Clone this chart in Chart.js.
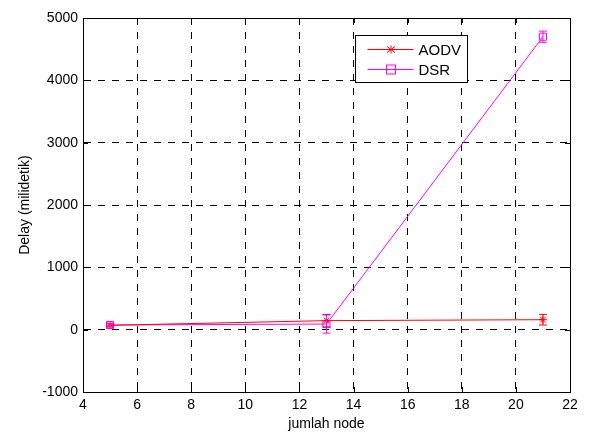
<!DOCTYPE html>
<html>
<head>
<meta charset="utf-8">
<script src="https://cdn.jsdelivr.net/npm/chart.js@4"></script>
<style>
html,body{margin:0;padding:0;background:#fff}
#wrap{width:590px;height:432px;position:relative}
</style>
</head>
<body>
<div id="wrap"><canvas id="cv"></canvas></div>
<script>
// node counts and mean delay per protocol
var nodes=[5,13,21];
var aodv=[70,145,160];
var aodvErr=[25,100,85];
var dsr=[75,90,4700];
var dsrErr=[25,145,90];

var FONT='"Liberation Sans", Arial, sans-serif';

// error bars, box, axis titles and legend drawn over the plot
var extras={
  id:'extras',
  afterDatasetsDraw:function(chart){
    var c=chart.ctx,xs=chart.scales.x,ys=chart.scales.y,a=chart.chartArea;
    function bars(vals,errs,col){
      c.save();c.strokeStyle=col;c.lineWidth=1;
      vals.forEach(function(v,i){
        var px=xs.getPixelForValue(nodes[i]);
        var t=ys.getPixelForValue(v+errs[i]),b=ys.getPixelForValue(v-errs[i]);
        c.beginPath();
        c.moveTo(px,t);c.lineTo(px,b);
        c.moveTo(px-4,t);c.lineTo(px+4,t);
        c.moveTo(px-4,b);c.lineTo(px+4,b);
        c.stroke();
      });
      c.restore();
    }
    bars(aodv,aodvErr,'#ff0000');
    bars(dsr,dsrErr,'#ff00ff');
    c.save();
    c.strokeStyle='#000';c.lineWidth=1;
    c.strokeRect(Math.round(a.left)+0.5,Math.round(a.top)+0.5,Math.round(a.right-a.left),Math.round(a.bottom-a.top));
    // inward tick marks
    c.beginPath();
    xs.ticks.forEach(function(t){var px=Math.round(xs.getPixelForValue(t.value))+0.5;
      c.moveTo(px,a.bottom);c.lineTo(px,a.bottom-5);c.moveTo(px,a.top);c.lineTo(px,a.top+5);});
    ys.ticks.forEach(function(t){var py=Math.round(ys.getPixelForValue(t.value))+0.5;
      c.moveTo(a.left,py);c.lineTo(a.left+5,py);c.moveTo(a.right,py);c.lineTo(a.right-5,py);});
    c.stroke();
    // axis titles
    c.fillStyle='#000';c.font='14px '+FONT;c.textAlign='center';c.textBaseline='middle';
    c.fillText('jumlah node',(a.left+a.right)/2,424);
    c.save();c.translate(25,(a.top+a.bottom)/2);c.rotate(-Math.PI/2);
    c.fillText('Delay (milidetik)',0,0);c.restore();
    // legend
    c.textAlign='left';
    var lx=355.5,ly=35.5,lw=112,lh=47;
    c.fillStyle='#fff';c.fillRect(lx,ly,lw,lh);
    c.strokeRect(lx,ly,lw,lh);
    c.font='15px '+FONT;
    var rows=[{t:'AODV',col:'#ff0000',y:ly+14},{t:'DSR',col:'#ff00ff',y:ly+34}];
    rows.forEach(function(r,i){
      c.strokeStyle=r.col;c.beginPath();c.moveTo(lx+12,r.y);c.lineTo(lx+58,r.y);c.stroke();
      if(i===0){
        c.beginPath();
        c.moveTo(lx+35.5,r.y-4);c.lineTo(lx+35.5,r.y+4);
        c.moveTo(lx+31.5,r.y-3);c.lineTo(lx+39.5,r.y+3);
        c.moveTo(lx+31.5,r.y+3);c.lineTo(lx+39.5,r.y-3);
        c.stroke();
      }else{
        c.strokeRect(lx+31,r.y-4.5,9,9);
      }
      c.fillStyle='#000';c.fillText(r.t,lx+63,r.y+1);
    });
    c.restore();
  }
};

new Chart(document.getElementById('cv'),{
  type:'line',
  data:{datasets:[
    {label:'AODV',data:nodes.map(function(x,i){return{x:x,y:aodv[i]};}),
     borderColor:'#ff0000',backgroundColor:'#ff0000',borderWidth:1,
     pointStyle:'star',pointRadius:4,pointBorderWidth:1,tension:0},
    {label:'DSR',data:nodes.map(function(x,i){return{x:x,y:dsr[i]};}),
     borderColor:'#ff00ff',backgroundColor:'rgba(0,0,0,0)',borderWidth:1,
     pointStyle:'rect',pointRadius:5,pointBorderWidth:1,tension:0}
  ]},
  options:{
    responsive:true,maintainAspectRatio:false,animation:false,
    layout:{padding:{left:0,top:18,right:20,bottom:0}},
    plugins:{legend:{display:false},tooltip:{enabled:false}},
    scales:{
      x:{type:'linear',min:4,max:22,
        ticks:{stepSize:2,color:'#000',font:{family:FONT,size:14},padding:5},
        grid:{color:'#000',lineWidth:1,drawTicks:false},
        border:{display:true,color:'#000',dash:[7,7]},
        afterFit:function(s){s.height=40;}},
      y:{min:-1000,max:5000,
        ticks:{stepSize:1000,color:'#000',font:{family:FONT,size:14},padding:5,
          callback:function(v){return String(v);}},
        grid:{color:'#000',lineWidth:1,drawTicks:false},
        border:{display:true,color:'#000',dash:[7,7]},
        afterFit:function(s){s.width=83;}}
    }
  },
  plugins:[extras]
});
</script>
</body>
</html>
